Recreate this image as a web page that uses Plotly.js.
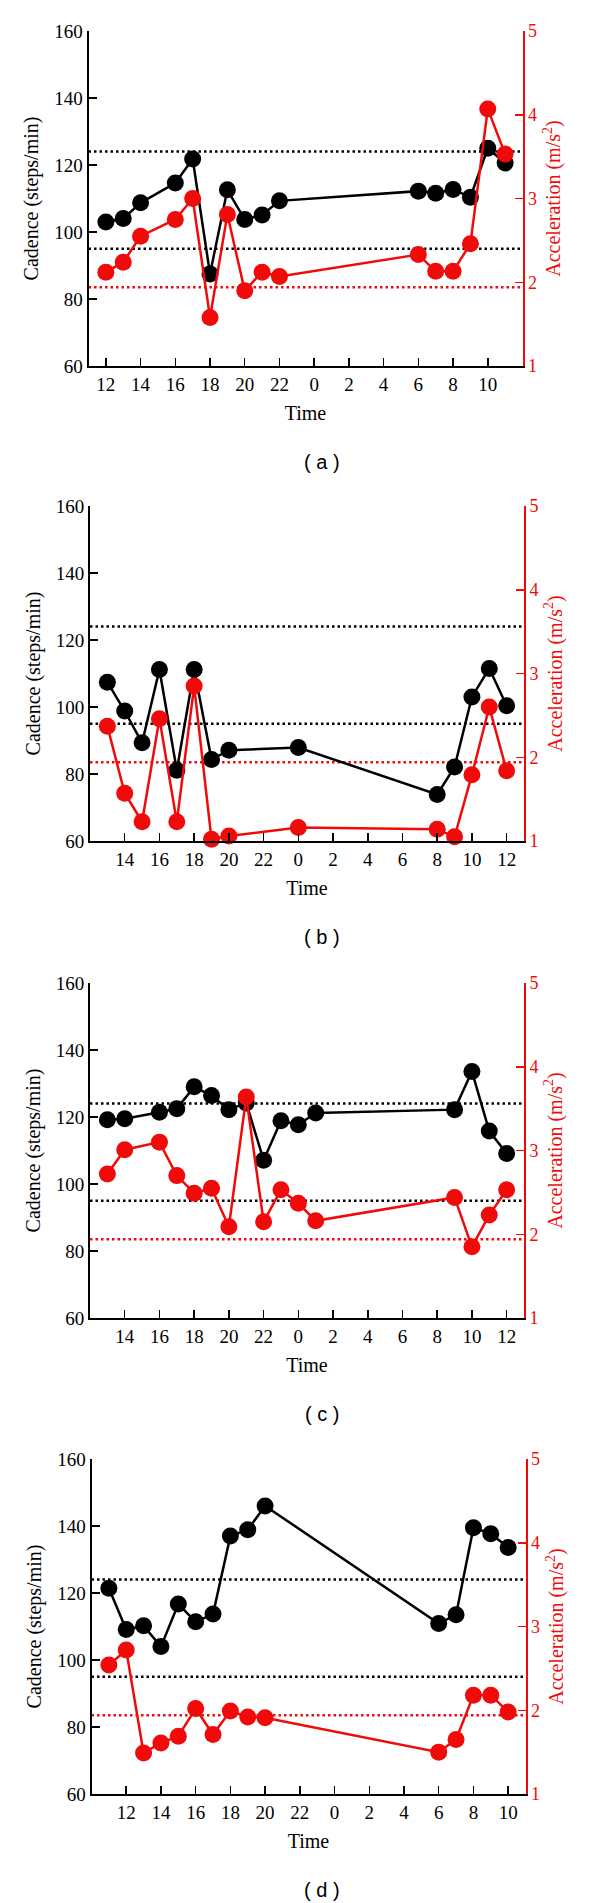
<!DOCTYPE html>
<html>
<head>
<meta charset="utf-8">
<script src="https://cdn.plot.ly/plotly-3.0.1.min.js"></script>
<style>
  html, body { margin: 0; padding: 0; background: #fff; }
  #chart { width: 600px; height: 1903px; }
</style>
</head>
<body>
<div id="chart"></div>
<script>
// hours are counted continuously from midnight of day one (24 = 0 next day)
const hoursA = [12, 13, 14, 16, 17, 18, 19, 20, 21, 22, 30, 31, 32, 33, 34, 35];
const cadenceA = [103, 104, 108.7, 114.6, 121.8, 87.5, 112.6, 103.7, 105.1, 109.3, 112.2, 111.6, 112.7, 110.4, 125, 120.6];
const accelA = [2.12, 2.24, 2.55, 2.75, 3.0, 1.58, 2.81, 1.90, 2.12, 2.07, 2.33, 2.13, 2.13, 2.46, 4.07, 3.53];

const hoursB = [13, 14, 15, 16, 17, 18, 19, 20, 24, 32, 33, 34, 35, 36];
const cadenceB = [107.4, 98.8, 89.3, 111.2, 81.1, 111.2, 84.3, 87.1, 87.9, 73.9, 82.1, 103, 111.5, 100.4];
const accelB = [2.37, 1.57, 1.23, 2.46, 1.23, 2.85, 1.02, 1.06, 1.16, 1.14, 1.05, 1.79, 2.60, 1.84];

const hoursC = [13, 14, 16, 17, 18, 19, 20, 21, 22, 23, 24, 25, 33, 34, 35, 36];
const cadenceC = [119.2, 119.5, 121.4, 122.5, 129, 126.4, 122.2, 124.2, 107.1, 118.9, 117.7, 121.2, 122.2, 133.6, 115.8, 109.1];
const accelC = [2.72, 3.01, 3.10, 2.70, 2.49, 2.55, 2.09, 3.64, 2.15, 2.53, 2.37, 2.16, 2.44, 1.85, 2.23, 2.53];

const hoursD = [11, 12, 13, 14, 15, 16, 17, 18, 19, 20, 30, 31, 32, 33, 34];
const cadenceD = [121.4, 109.1, 110.2, 104, 116.7, 111.4, 113.7, 137, 138.9, 146, 110.9, 113.5, 139.5, 137.7, 133.6];
const accelD = [2.54, 2.72, 1.49, 1.61, 1.69, 2.02, 1.71, 1.99, 1.92, 1.91, 1.50, 1.65, 2.18, 2.18, 1.98];

// x tick positions and their clock labels
const tickValsA = [12, 14, 16, 18, 20, 22, 24, 26, 28, 30, 32, 34];
const tickTextA = ['12', '14', '16', '18', '20', '22', '0', '2', '4', '6', '8', '10'];
const tickValsB = [14, 16, 18, 20, 22, 24, 26, 28, 30, 32, 34, 36];
const tickTextB = ['14', '16', '18', '20', '22', '0', '2', '4', '6', '8', '10', '12'];

const xRanges = [[11, 36], [12, 37], [12, 37], [10, 35]];

// reference levels
const cadenceRefs = [124, 95];
const accelRefs = [1.94];

const panelLabels = ['( a )', '( b )', '( c )', '( d )'];

const panels = [
    {hours: hoursA, cadence: cadenceA, accel: accelA, ticks: tickValsA, text: tickTextA},
    {hours: hoursB, cadence: cadenceB, accel: accelB, ticks: tickValsB, text: tickTextB},
    {hours: hoursC, cadence: cadenceC, accel: accelC, ticks: tickValsB, text: tickTextB},
    {hours: hoursD, cadence: cadenceD, accel: accelD, ticks: tickValsA, text: tickTextA}
];

const W = 600, H = 1903;
const panelTops = [31, 506, 983, 1459];
const panelLefts = [88.5, 90, 90, 91.5];
const plotH = 335;
const plotW = 434;
const serif = 'Liberation Serif, Times New Roman, serif';
const RED = 'rgb(240,10,10)';

const traces = [];
const shapes = [];
const annotations = [];
const layout = {
    width: W,
    height: H,
    margin: {l: 0, r: 0, t: 0, b: 0},
    paper_bgcolor: 'white',
    plot_bgcolor: 'rgba(0,0,0,0)',
    showlegend: false,
    font: {family: serif, color: 'black'}
};

panels.forEach((p, i) => {
    const xn = i === 0 ? '' : String(i + 1);
    const yl = i === 0 ? '' : String(2 * i + 1);
    const yr = String(2 * i + 2);
    const top = panelTops[i];
    const left = panelLefts[i];
    const yDomain = [1 - (top + plotH) / H, 1 - top / H];

    layout['xaxis' + xn] = {
        domain: [left / W, (left + plotW) / W],
        anchor: 'y' + yl,
        range: xRanges[i],
        tickvals: p.ticks,
        ticktext: p.text,
        ticks: 'inside',
        ticklen: 8,
        tickwidth: 1.5,
        tickcolor: 'black',
        showline: true,
        linecolor: 'black',
        linewidth: 2,
        showgrid: false,
        zeroline: false,
        tickfont: {family: serif, size: 19, color: 'black'},
        title: {text: 'Time', font: {family: serif, size: 20, color: 'black'}, standoff: 12}
    };
    layout['yaxis' + yl] = {
        domain: yDomain,
        anchor: 'x' + xn,
        range: [60, 160],
        tickvals: [60, 80, 100, 120, 140, 160],
        ticks: 'inside',
        ticklen: 8,
        tickwidth: 1.5,
        tickcolor: 'black',
        showline: true,
        linecolor: 'black',
        linewidth: 2,
        showgrid: false,
        zeroline: false,
        tickfont: {family: serif, size: 19, color: 'black'},
        title: {text: 'Cadence (steps/min)', font: {family: serif, size: 20, color: 'black'}, standoff: 10}
    };
    layout['yaxis' + yr] = {
        overlaying: 'y' + yl,
        side: 'right',
        anchor: 'x' + xn,
        range: [1, 5],
        tickvals: [1, 2, 3, 4, 5],
        ticks: 'inside',
        ticklen: 8,
        tickwidth: 1.5,
        tickcolor: RED,
        showline: true,
        linecolor: RED,
        linewidth: 2,
        showgrid: false,
        zeroline: false,
        tickfont: {family: serif, size: 18, color: RED},
        title: {text: 'Acceleration (m/s<sup>2</sup>)', font: {family: serif, size: 20, color: RED}, standoff: 10}
    };

    cadenceRefs.forEach(v => {
        shapes.push({
            type: 'line', layer: 'below',
            xref: 'x' + xn + ' domain', x0: 0, x1: 1,
            yref: 'y' + yl, y0: v, y1: v,
            line: {color: 'black', width: 2.5, dash: '2.5px,3px'}
        });
    });
    accelRefs.forEach(v => {
        shapes.push({
            type: 'line', layer: 'below',
            xref: 'x' + xn + ' domain', x0: 0, x1: 1,
            yref: 'y' + yr, y0: v, y1: v,
            line: {color: RED, width: 2.5, dash: '2.5px,3px'}
        });
    });

    traces.push({
        type: 'scatter',
        mode: 'lines+markers',
        x: p.hours,
        y: p.cadence,
        xaxis: 'x' + xn,
        yaxis: 'y' + yl,
        line: {color: 'black', width: 2.5},
        marker: {color: 'black', size: 17},
        cliponaxis: false,
        hoverinfo: 'none'
    });
    traces.push({
        type: 'scatter',
        mode: 'lines+markers',
        x: p.hours,
        y: p.accel,
        xaxis: 'x' + xn,
        yaxis: 'y' + yr,
        line: {color: RED, width: 2.5},
        marker: {color: RED, size: 17},
        cliponaxis: false,
        hoverinfo: 'none'
    });

    annotations.push({
        text: panelLabels[i],
        xref: 'paper', yref: 'paper',
        x: 322 / W, y: 1 - (top + 431) / H,
        xanchor: 'center', yanchor: 'middle',
        showarrow: false,
        font: {family: 'Liberation Sans, Arial, sans-serif', size: 20, color: 'black'}
    });
});

layout.shapes = shapes;
layout.annotations = annotations;

Plotly.newPlot('chart', traces, layout, {staticPlot: true});
</script>
</body>
</html>
